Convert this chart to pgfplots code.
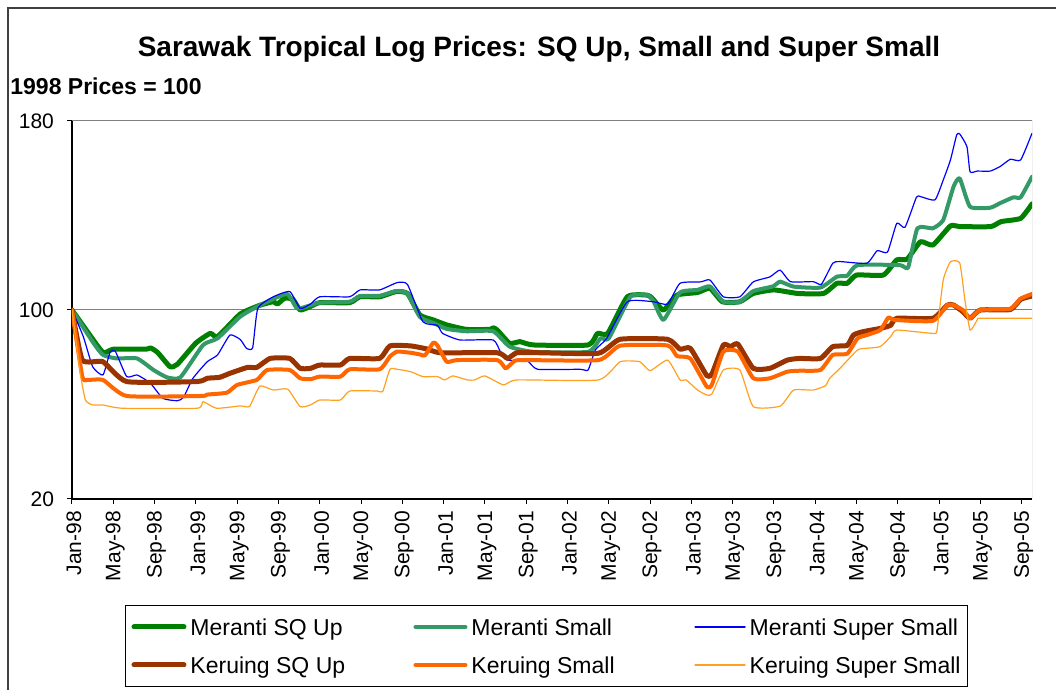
\documentclass[border=0pt]{standalone}
\usepackage{fontspec}
\setmainfont{Liberation Sans}
\usepackage{pgfplots}
\pgfplotsset{compat=1.18}
\definecolor{cMSQ}{HTML}{008000}
\definecolor{cMS}{HTML}{339966}
\definecolor{cMSS}{HTML}{0000FF}
\definecolor{cKSQ}{HTML}{993300}
\definecolor{cKS}{HTML}{FF6600}
\definecolor{cKSS}{HTML}{FFA020}
\begin{document}
\begin{tikzpicture}
\useasboundingbox (0,0) rectangle (528pt,345pt);
\draw[line width=0.9pt, black!75] (4pt,-20pt) -- (4pt,341pt) -- (560pt,341pt);
\begin{axis}[
  at={(36pt,95.5pt)}, anchor=south west, scale only axis,
  width=480pt, height=189pt,
  xmin=0, xmax=93, ymin=20, ymax=180,
  axis x line*=bottom, axis y line*=left,
  axis line style={black, line width=0.6pt, -},
  xtick={0,4,...,92},
  xticklabels={Jan-98,May-98,Sep-98,Jan-99,May-99,Sep-99,Jan-00,May-00,Sep-00,Jan-01,May-01,Sep-01,Jan-02,May-02,Sep-02,Jan-03,May-03,Sep-03,Jan-04,May-04,Sep-04,Jan-05,May-05,Sep-05},
  ytick={20,100,180},
  tick align=outside, major tick length=2.5pt,
  tick style={black, line width=0.5pt},
  ymajorgrids, grid style={gray, line width=0.5pt},
  xticklabel style={rotate=90, anchor=east, font=\fontsize{10.5}{12}\selectfont, yshift=-1pt},
  yticklabel style={font=\fontsize{10.5}{12}\selectfont, xshift=-3pt},
  /pgf/number format/assume math mode=true,
  every axis plot/.append style={line join=round, line cap=round, smooth, tension=0.3},
  legend columns=3,
  legend cell align=left,
  legend image code/.code={\draw[#1, sharp plot] (0pt,0pt) -- (25pt,0pt);},
  legend style={at={(0.0552,-0.2804)}, anchor=north west, draw=black,
    line width=0.5pt, inner xsep=3pt, inner ysep=3.5pt,
    font=\fontsize{11.5}{13}\selectfont, row sep=4.5pt,
    nodes={inner xsep=0pt, inner ysep=1pt, text height=10.5pt, text depth=2pt},
    /tikz/every odd column/.style={column sep=2pt}},
]
\draw[gray, line width=0.5pt] (rel axis cs:0,1) -- (rel axis cs:1,1) -- (rel axis cs:1,0);

% Meranti SQ Up
\addplot[cMSQ, line width=2.5pt] coordinates {
(0,100) (1.3,92) (3.0,82) (4.0,83.4) (7.2,83.4) (7.6,84) (8.3,82) (9.5,76) (10.2,77)
(12.0,86) (13.4,90.1) (14.1,88.7) (16.3,98.3) (18.2,102) (19.5,103.5) (19.9,102.5)
(20.6,105) (21.4,104.5) (22.1,100) (23.1,101.5) (24.0,103.1) (26.9,103.1) (27.9,105.6)
(29.8,105.6) (31.4,107.8) (32.5,107) (33.7,97.9) (35.0,95.8) (36.3,93.7) (38.2,91.8)
(40.5,91.8) (40.8,92.5) (41.2,91.5) (42.4,85.9) (43.4,86.6) (44.7,85.2) (50.0,85.2)
(50.9,90.1) (51.9,90.1) (53.8,105.6) (55.7,106.3) (56.2,105) (57.3,100) (58.6,106.3)
(60.6,107.4) (61.8,109.2) (63.0,103.5) (64.7,103.5) (66.0,107) (68.0,108.5) (70.3,107)
(72.8,107) (74.1,111.3) (75.1,111.3) (76.0,114.8) (78.6,114.8) (79.9,121.2) (80.9,121.5)
(82.2,128.9) (83.4,127.5) (85.1,135.6) (86,135.3) (89,135.3) (90,137.4) (91.9,138.8) (93.0,144.9)
};
\addlegendentry{\makebox[111.5pt][l]{Meranti SQ Up}}

% Meranti Small
\addplot[cMS, line width=2pt] coordinates {
(0,100) (2.1,85.9) (3.0,81) (4.3,79.5) (6.3,79.5) (7.9,74.6) (9.2,71.5) (10.5,71.5)
(12.7,85.2) (14.1,88) (16.3,97.2) (18.2,102) (20.8,106.8) (21.8,100.7) (23.1,102)
(24.0,103.1) (26.9,103.5) (27.9,105.9) (29.8,106) (31.4,108) (32.5,107) (33.7,97)
(35.0,94.5) (36.3,92) (38.2,91) (40.8,91) (42.4,84.5) (44.7,82.3) (50.0,82.3) (51.2,88)
(52,88) (54.1,105.6) (55.7,106.3) (56.3,104) (57.3,95.8) (58.9,107.4) (60.6,108.5)
(61.8,110) (63.1,103.5) (64.7,103.5) (66.0,108) (67.9,110) (68.6,112) (69.9,109.9)
(72.5,109.5) (74.1,114.1) (75.1,114.5) (76.1,119) (80.2,119) (81.0,118) (81.9,134.6)
(83.4,134.6) (84.4,138.1) (85.4,152.2) (86.0,155.7) (87.0,143.7) (88.95,143.3)
(89.9,145.2) (91.2,147.7) (91.9,147.7) (93.0,156.4)
};
\addlegendentry{\makebox[111.5pt][l]{Meranti Small}}

% Meranti Super Small
\addplot[cMSS, line width=0.6pt] coordinates {
(0,100) (1.1,88.7) (2.0,76) (3.0,72.5) (3.7,82.3) (4.2,82.5) (5.3,71.8) (6.3,72.5)
(7.6,69) (8.8,62.6) (10.2,61.6) (10.8,63) (11.7,71) (13.1,78.1) (14.1,81) (15.3,89.4)
(16.3,87.5) (16.9,83.8) (17.5,84) (18.0,100.7) (19.5,105.6) (21.1,107.8) (22.1,100.7)
(23.1,102.5) (24.0,105.6) (26.9,105.6) (27.9,108.5) (29.8,108.5) (31.5,111.6)
(32.5,110.8) (34.0,95) (35.4,93.5) (35.9,90.1) (37.6,87.3) (40.8,87.3) (41.5,82.3)
(42.2,78.8) (44.1,78.5) (45.1,74.9) (49.2,74.9) (50.0,74.6) (50.7,83.1) (51.8,88)
(53.8,103.5) (56.3,103.5) (57.7,102.5) (58.9,111.3) (60.9,111.9) (61.8,112.7)
(63.1,105.6) (64.7,105.6) (66.0,111.9) (67.6,114) (68.6,116.9) (69.6,112) (71.8,112)
(72.6,110.9) (73.7,119.8) (74.4,120.5) (77.0,119.8) (78.0,125.1) (79.0,124.5)
(79.9,136.7) (80.7,135) (81.8,147.7) (82.2,148) (83.6,146.6) (84.4,155) (85.1,163.5)
(85.7,174.1) (86.0,174.5) (86.7,169.1) (87.0,158.5) (87.7,158.8) (88.95,158.8)
(89.9,160.7) (90.9,163.8) (91.9,163.5) (93.0,174.8)
};
\addlegendentry{\makebox[106pt][l]{Meranti Super Small}}

% Keruing SQ Up
\addplot[cKSQ, line width=2.5pt] coordinates {
(0,100) (1.0,78.8) (3.0,78.1) (5.3,69.7) (12.1,69.7) (13.1,71.1) (14.3,71.5) (15.3,73.2)
(17.0,75.7) (17.9,75.7) (19.2,79.5) (21.1,79.5) (22.1,75.3) (23.1,75.3) (24.0,76.7)
(26.0,76.7) (26.9,79.5) (29.8,79.5) (30.8,84.8) (32.8,84.8) (34.4,83.5) (35.7,81.9)
(41.2,81.9) (42.2,79.5) (43.1,81.9) (45.3,81.9) (51.0,81.7) (53.1,87.6) (57.7,87.6)
(58.9,83.4) (59.9,83.8) (61.5,72.2) (62.0,73) (63.1,85.2) (63.8,84.5) (64.5,85.6)
(66.0,75.3) (67.6,75.3) (69.3,78.8) (70.5,79.5) (72.5,79.5) (73.7,84.5) (75.1,85)
(75.7,89.4) (76.6,90.8) (78.3,92.2) (79.3,93.5) (79.9,96.5) (83.4,96.5) (84.8,102.1)
(85.4,102.1) (86.3,99.3) (87.0,96.5) (88.0,100) (90.9,100.2) (91.9,104.5) (93.0,105.9)
};
\addlegendentry{\makebox[111.5pt][l]{Keruing SQ Up}}

% Keruing Small
\addplot[cKS, line width=2pt] coordinates {
(0,100) (1.0,71.8) (1.5,70.4) (3.0,70.4) (5.3,63.6) (12.5,63.6) (13.1,64.2) (15.0,65)
(16.0,68.3) (17.9,70.4) (18.9,74.6) (21.1,74.6) (22.1,71.1) (23.1,70.7) (24.0,71.8)
(26.0,71.8) (26.9,74.9) (29.8,74.9) (30.8,80.3) (31.5,82.4) (32.8,81.9) (33.7,81.2)
(34.2,80.8) (35.0,86.2) (35.4,85) (36.3,78.1) (37.3,78.8) (41.2,78.8) (42.0,75.3)
(42.7,77.8) (43.4,78.8) (51.0,78.8) (53.1,84.9) (57.7,85) (58.6,80.5) (59.9,79.5)
(61.5,67.5) (62.0,68.5) (63.1,82.4) (64.5,82.4) (66.0,71.1) (67.6,71.1) (69.3,73.9)
(70.5,74.3) (72.5,74.6) (73.7,81) (75.1,81.5) (76.1,88) (77.0,89.4) (78.3,91.5)
(79.1,96.9) (79.7,95.8) (83.4,95.4) (84.8,102.1) (85.4,102) (86.3,100) (87.0,96.5)
(88.0,100) (90.9,100.5) (91.9,104.8) (93.0,106.8)
};
\addlegendentry{\makebox[111.5pt][l]{Keruing Small}}

% Keruing Super Small
\addplot[cKSS, line width=0.6pt] coordinates {
(0,100) (0.8,73.2) (1.3,61.9) (2.0,59.8) (3.0,59.8) (4.9,58.4) (12.1,58.4) (12.7,61.2)
(14.0,58.4) (16.3,59.4) (17.2,59.2) (18.2,67.8) (19.5,66.1) (20.9,66.5) (22.1,59.1)
(23.1,59.8) (24.0,61.9) (26.0,61.9) (26.9,65.7) (29.6,65.7) (30.1,65.5) (30.8,74.9)
(31.5,74.9) (32.8,73.9) (34.0,71.8) (35.4,71.8) (36.1,70.4) (36.9,72.1) (38.3,70.4)
(39.0,70.4) (40.0,72.1) (41.8,68.3) (43.1,70.4) (51.0,70.4) (53.1,78.1) (55.0,78.1)
(56.0,74.3) (57.7,78.8) (58.9,70.4) (59.5,70.4) (60.6,66.1) (61.5,64) (62.0,64.5)
(63.1,74.6) (64.7,74.6) (66.0,59.1) (68.6,59.3) (69.9,66.1) (71.8,66.1) (73.0,68)
(73.4,71.1) (74.4,75.3) (76.1,83.1) (77.0,83.8) (78.3,84.5) (79.3,88.7) (79.9,91.5)
(83.4,90.1) (83.8,91.5) (84.4,112.7) (85.1,120.4) (86.0,119.9) (86.5,104.2) (87.0,91.5)
(87.7,95.8) (88.0,96.5) (93.0,96.5)
};
\addlegendentry{\makebox[106pt][l]{Keruing Super Small}}
\end{axis}
\node[font=\bfseries\fontsize{14}{16}\selectfont] at (269.5pt,320.5pt) {Sarawak Tropical Log Prices: SQ Up, Small and Super Small};
\node[font=\bfseries\fontsize{11.5}{13}\selectfont, anchor=west, inner sep=0pt] at (5pt,302pt) {1998 Prices = 100};
\end{tikzpicture}
\end{document}
